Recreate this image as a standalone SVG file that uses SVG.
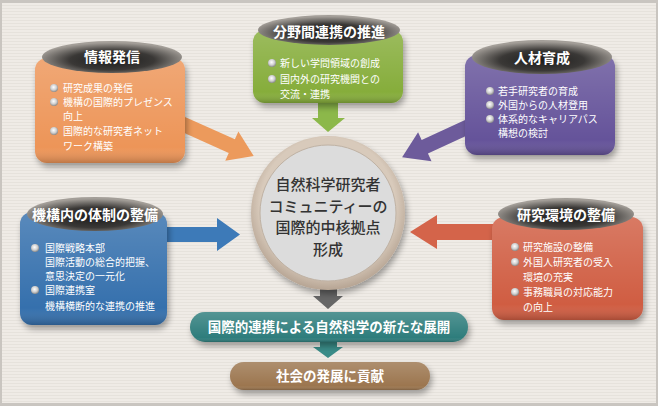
<svg xmlns="http://www.w3.org/2000/svg" width="658" height="406" viewBox="0 0 658 406">
<defs>
<pattern id="tex" width="8" height="3" patternUnits="userSpaceOnUse">
<rect width="8" height="3" fill="#efebe6"/>
<rect y="2" width="8" height="1" fill="#e6e2dc"/>
</pattern>
<radialGradient id="hdr" cx="50%" cy="60%" r="55%">
<stop offset="0" stop-color="#1c1c1c"/>
<stop offset="0.55" stop-color="#3a3836"/>
<stop offset="1" stop-color="#a39e98"/>
</radialGradient>
<linearGradient id="shade" x1="0" y1="0" x2="0" y2="1">
<stop offset="0" stop-color="#fff" stop-opacity="0.18"/>
<stop offset="0.85" stop-color="#fff" stop-opacity="0"/>
<stop offset="1" stop-color="#000" stop-opacity="0.2"/>
</linearGradient>
<radialGradient id="bul" cx="45%" cy="40%" r="60%">
<stop offset="0" stop-color="#ffffff"/>
<stop offset="0.6" stop-color="#cfcfcf"/>
<stop offset="1" stop-color="#8a8a8a"/>
</radialGradient>
<radialGradient id="ring" cx="50%" cy="45%" r="55%">
<stop offset="0.8" stop-color="#d8cabb"/>
<stop offset="1" stop-color="#b6a493"/>
</radialGradient>
<filter id="sh" x="-20%" y="-20%" width="140%" height="150%">
<feGaussianBlur in="SourceAlpha" stdDeviation="3"/>
<feOffset dx="2" dy="4"/>
<feComponentTransfer><feFuncA type="linear" slope="0.35"/></feComponentTransfer>
<feMerge><feMergeNode/><feMergeNode in="SourceGraphic"/></feMerge>
</filter>
</defs>
<style>
.t{font-family:"Noto Sans CJK JP","Noto Sans CJK SC",sans-serif;}
.ttl{font-size:14px;font-weight:bold;fill:#fff;text-anchor:middle;}
.b{font-size:10px;fill:#fff;}
.c{font-size:15px;fill:#333;text-anchor:middle;font-weight:500;}
.p{font-size:13.5px;fill:#fff;text-anchor:middle;font-weight:bold;}
.hd{fill:url(#hdr);}
.sd{fill:url(#shade);}
.bl{fill:url(#bul);}
</style>
<rect width="658" height="406" fill="#c9c5c0"/>
<rect x="2" y="3" width="654" height="400" fill="url(#tex)"/>

<g id="connectors">
<polygon fill="#ec9a5c" transform="translate(178,122) rotate(24.2)" points="0,-7.5 59,-7.5 59,-16 83,0 59,16 59,7.5 0,7.5"/>
<polygon fill="#6d5b9b" transform="translate(472,125) rotate(155.2)" points="0,-7.5 52,-7.5 52,-16 77,0 52,16 52,7.5 0,7.5"/>
<polygon fill="#3d7ab8" points="160,227 217,227 217,218 240,234.5 217,251 217,242 160,242"/>
<polygon fill="#d4644a" points="500,224 437,224 437,215 410,232 437,249 437,240 500,240"/>
<polygon fill="#8cb84a" points="318,98 338,98 338,118 345,118 328,132 312,118 318,118"/>
<polygon fill="#666" points="320,284 337,284 337,296 343,296 328,309 313,296 320,296"/>
<polygon fill="#3a8c88" points="320,340 337,340 337,347 343,347 328,358 313,347 320,347"/>
</g>

<g id="n-info" class="t">
<g filter="url(#sh)"><rect x="35" y="58" width="150" height="105" rx="12" fill="#ed9558"/></g>
<rect x="35" y="58" width="150" height="105" rx="12" class="sd"/>
<ellipse cx="112" cy="57" rx="70" ry="16" class="hd"/>
<text x="112" y="62" class="t ttl">情報発信</text>
<circle cx="54" cy="88" r="4" class="bl"/><circle cx="54" cy="102" r="4" class="bl"/><circle cx="54" cy="131" r="4" class="bl"/>
<text class="t b" x="63" y="91.5">研究成果の発信</text>
<text class="t b" x="63" y="105.5">機構の国際的プレゼンス</text>
<text class="t b" x="63" y="119.5">向上</text>
<text class="t b" x="63" y="134.5">国際的な研究者ネット</text>
<text class="t b" x="63" y="149.5">ワーク構築</text>
</g>

<g id="n-interdisc" class="t">
<g filter="url(#sh)"><rect x="253" y="30" width="150" height="73" rx="12" fill="#86ad3a"/></g>
<rect x="253" y="30" width="150" height="73" rx="12" class="sd"/>
<ellipse cx="329" cy="30" rx="71" ry="15" class="hd"/>
<text x="329" y="37" class="t ttl">分野間連携の推進</text>
<circle cx="272" cy="63" r="4" class="bl"/><circle cx="272" cy="79" r="4" class="bl"/>
<text class="t b" x="280" y="66.5">新しい学問領域の創成</text>
<text class="t b" x="280" y="82.5">国内外の研究機関との</text>
<text class="t b" x="280" y="97.5">交流・連携</text>
</g>

<g id="n-hr" class="t">
<g filter="url(#sh)"><rect x="465" y="55" width="150" height="100" rx="12" fill="#65539a"/></g>
<rect x="465" y="55" width="150" height="100" rx="12" class="sd"/>
<ellipse cx="542" cy="57" rx="70" ry="17" class="hd"/>
<text x="542" y="63" class="t ttl">人材育成</text>
<circle cx="490" cy="91" r="4" class="bl"/><circle cx="490" cy="105" r="4" class="bl"/><circle cx="490" cy="119" r="4" class="bl"/>
<text class="t b" x="498" y="94.5">若手研究者の育成</text>
<text class="t b" x="498" y="108.5">外国からの人材登用</text>
<text class="t b" x="498" y="122.5">体系的なキャリアパス</text>
<text class="t b" x="498" y="136.5">構想の検討</text>
</g>

<g id="n-org" class="t">
<g filter="url(#sh)"><rect x="20" y="212" width="147" height="113" rx="12" fill="#3670ad"/></g>
<rect x="20" y="212" width="147" height="113" rx="12" class="sd"/>
<ellipse cx="95" cy="214" rx="68" ry="17" class="hd"/>
<text x="95" y="220" class="t ttl">機構内の体制の整備</text>
<circle cx="35" cy="248" r="4" class="bl"/><circle cx="35" cy="290" r="4" class="bl"/>
<text class="t b" x="45" y="251.5">国際戦略本部</text>
<text class="t b" x="45" y="265.5">国際活動の総合的把握、</text>
<text class="t b" x="45" y="279.5">意思決定の一元化</text>
<text class="t b" x="45" y="293.5">国際連携室</text>
<text class="t b" x="45" y="309.5">機構横断的な連携の推進</text>
</g>

<g id="n-env" class="t">
<g filter="url(#sh)"><rect x="492" y="217" width="151" height="103" rx="12" fill="#d05d43"/></g>
<rect x="492" y="217" width="151" height="103" rx="12" class="sd"/>
<ellipse cx="566" cy="214" rx="68" ry="16" class="hd"/>
<text x="566" y="220" class="t ttl">研究環境の整備</text>
<circle cx="515" cy="247" r="4" class="bl"/><circle cx="515" cy="262" r="4" class="bl"/><circle cx="515" cy="292" r="4" class="bl"/>
<text class="t b" x="523" y="250.5">研究施設の整備</text>
<text class="t b" x="523" y="265.5">外国人研究者の受入</text>
<text class="t b" x="523" y="280.5">環境の充実</text>
<text class="t b" x="523" y="295.5">事務職員の対応能力</text>
<text class="t b" x="523" y="310.5">の向上</text>
</g>

<g id="n-center" class="t">
<g filter="url(#sh)"><circle cx="328" cy="213" r="77" fill="url(#ring)"/></g>
<circle cx="328" cy="213" r="68" fill="#dcdcdc" stroke="#bfb2a4" stroke-width="1"/>
<text class="t c" x="328" y="190">自然科学研究者</text>
<text class="t c" x="328" y="211.5">コミュニティーの</text>
<text class="t c" x="328" y="233">国際的中核拠点</text>
<text class="t c" x="328" y="254.5">形成</text>
</g>

<g id="n-develop" class="t">
<g filter="url(#sh)"><rect x="190" y="312" width="278" height="30" rx="15" fill="#2f7d7b"/></g>
<rect x="190" y="312" width="278" height="30" rx="15" class="sd"/>
<text class="t p" x="329" y="332">国際的連携による自然科学の新たな展開</text>
</g>

<g id="n-society" class="t">
<g filter="url(#sh)"><rect x="230" y="362" width="200" height="28" rx="14" fill="#9c7650"/></g>
<rect x="230" y="362" width="200" height="28" rx="14" class="sd"/>
<text class="t p" x="330" y="381">社会の発展に貢献</text>
</g>
</svg>
